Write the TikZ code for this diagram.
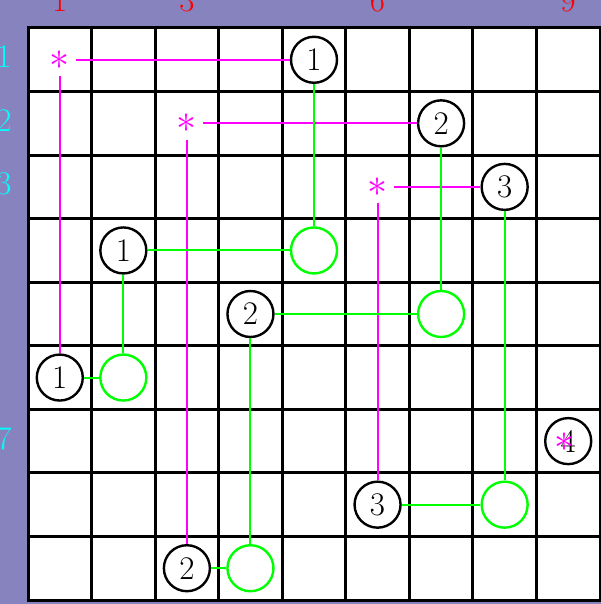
\documentclass[tikz,border=0pt]{standalone}
\usepackage{fix-cm}
\definecolor{bgp}{RGB}{135,131,190}
\definecolor{mg}{RGB}{255,0,255}
\definecolor{gn}{RGB}{0,255,0}
\definecolor{cy}{RGB}{0,255,255}
\definecolor{rd}{RGB}{255,0,0}
\tikzset{
  num/.style={circle, draw=black, fill=white, line width=2.4pt, minimum size=46pt, inner sep=0pt},
  gcirc/.style={circle, draw=gn, fill=white, line width=2.4pt, minimum size=46pt, inner sep=0pt},
  star/.style={circle, minimum size=32pt, inner sep=0pt, text=mg, font=\fontsize{40}{48}\selectfont},
  mag/.style={color=mg, line width=2pt},
  grn/.style={color=gn, line width=2pt},
  collab/.style={text=rd, anchor=base, inner sep=0pt},
  rowlab/.style={text=cy, anchor=base, inner sep=0pt},
  gridline/.style={line width=3pt, draw=black}
}
\newcommand{\cc}[1]{28+(#1-0.5)*63.555}
\begin{document}
\begin{tikzpicture}[x=1pt,y=-1pt,font=\fontsize{33}{40}\selectfont]
\useasboundingbox (0,0) rectangle (601,604);
\fill[bgp] (0,0) rectangle (601,604);
\fill[white] (28,28) rectangle (600,600);
\foreach \i in {1,...,8} {
  \draw[gridline] ({28+\i*63.555},28) -- ({28+\i*63.555},600);
  \draw[gridline] (28,{28+\i*63.555}) -- (600,{28+\i*63.555});
}
\draw[gridline] (28,28) rectangle (600,600);

% column labels
\node[collab] (c1) at ({\cc{1}},12) {1};
\node[collab] (c3) at ({\cc{3}},12) {3};
\node[collab] (c6) at ({\cc{6}},12) {6};
\node[collab] (c9) at ({\cc{9}},12) {9};
% row labels
\node[rowlab] (r1) at (4,{\cc{1}+8}) {1};
\node[rowlab] (r2) at (4,{\cc{2}+8}) {2};
\node[rowlab] (r3) at (4,{\cc{3}+8}) {3};
\node[rowlab] (r7) at (4,{\cc{7}+8}) {7};

% stars
\node[star] (s11) at ({\cc{1}},{\cc{1}}) {$*$};
\node[star] (s32) at ({\cc{3}},{\cc{2}}) {$*$};
\node[star] (s63) at ({\cc{6}},{\cc{3}}) {$*$};

% numbered circles
\node[num] (a51) at ({\cc{5}},{\cc{1}}) {1};
\node[num] (a72) at ({\cc{7}},{\cc{2}}) {2};
\node[num] (a83) at ({\cc{8}},{\cc{3}}) {3};
\node[num] (a24) at ({\cc{2}},{\cc{4}}) {1};
\node[num] (a45) at ({\cc{4}},{\cc{5}}) {2};
\node[num] (a16) at ({\cc{1}},{\cc{6}}) {1};
\node[num] (a97) at ({\cc{9}},{\cc{7}}) {4};
\node[num] (a68) at ({\cc{6}},{\cc{8}}) {3};
\node[num] (a39) at ({\cc{3}},{\cc{9}}) {2};

% green circles
\node[gcirc] (g54) at ({\cc{5}},{\cc{4}}) {};
\node[gcirc] (g75) at ({\cc{7}},{\cc{5}}) {};
\node[gcirc] (g26) at ({\cc{2}},{\cc{6}}) {};
\node[gcirc] (g88) at ({\cc{8}},{\cc{8}}) {};
\node[gcirc] (g49) at ({\cc{4}},{\cc{9}}) {};

% star inside circle 4
\node[star] (s97) at ({\cc{9}-4},{\cc{7}+1}) {$*$};

% magenta connectors
\draw[mag] (s11) -- (a51);
\draw[mag] (s11) -- (a16);
\draw[mag] (s32) -- (a72);
\draw[mag] (s32) -- (a39);
\draw[mag] (s63) -- (a83);
\draw[mag] (s63) -- (a68);

% green connectors
\draw[grn] (a51) -- (g54);
\draw[grn] (a24) -- (g54);
\draw[grn] (a72) -- (g75);
\draw[grn] (a45) -- (g75);
\draw[grn] (a24) -- (g26);
\draw[grn] (a16) -- (g26);
\draw[grn] (a83) -- (g88);
\draw[grn] (a68) -- (g88);
\draw[grn] (a45) -- (g49);
\draw[grn] (a39) -- (g49);
\end{tikzpicture}
\end{document}
